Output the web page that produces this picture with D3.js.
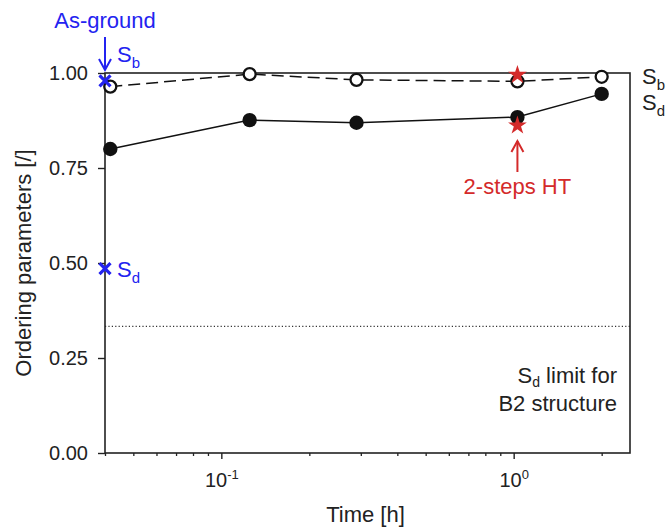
<!DOCTYPE html>
<html><head><meta charset="utf-8">
<script src="https://cdn.jsdelivr.net/npm/d3@7"></script>
<style>html,body{margin:0;padding:0;background:#fff;} svg{display:block;font-family:"Liberation Sans",Arial,sans-serif;}</style>
</head><body><svg id="c" width="667" height="527"></svg>
<script>
// Data
const times = [0.0417, 0.125, 0.29, 1.03, 2.0];
const Sb = [0.964, 0.997, 0.982, 0.978, 0.990];
const Sd = [0.800, 0.876, 0.869, 0.884, 0.945];
const asGroundTime = [0.04];
const asGroundSb = [0.979];
const asGroundSd = [0.485];
const twoStepTime = [1.03];
const twoStepSb = [0.995];
const twoStepSd = [0.862];
const sdLimit = [1/3];
const yTicks = [0, 0.25, 0.5, 0.75, 1.0];
const xMajorTicks = [0.1, 1];
const xMinorTicks = [0.04,0.05,0.06,0.07,0.08,0.09,0.2,0.3,0.4,0.5,0.6,0.7,0.8,0.9,2];

const W = 667, H = 527;
const m = {l:105, r:37, t:73, b:74};
const svg = d3.select("#c");
const x = d3.scaleLog().domain([0.04, 2.5]).range([m.l, W - m.r]);
const y = d3.scaleLinear().domain([0, 1]).range([H - m.b, m.t]);
const FONT = "Liberation Sans, Arial, sans-serif";
const BLUE = "#2323f0", RED = "#d42a2a";

// Dotted limit line
svg.append("line").attr("x1", x.range()[0]).attr("x2", x.range()[1])
  .attr("y1", y(sdLimit[0])).attr("y2", y(sdLimit[0]))
  .attr("stroke", "#333").attr("stroke-width", 1.2).attr("stroke-dasharray", "1.2,2.2");

// Frame
svg.append("rect").attr("x", m.l).attr("y", m.t).attr("width", W-m.l-m.r).attr("height", H-m.t-m.b)
  .attr("fill", "none").attr("stroke", "#222").attr("stroke-width", 1.6);

// Y axis
const yAx = svg.append("g").attr("transform", `translate(${m.l},0)`)
  .call(d3.axisLeft(y).tickValues(yTicks).tickFormat(d3.format(".2f")).tickSize(7).tickPadding(10));
yAx.select(".domain").remove();
yAx.selectAll("line").attr("stroke", "#222").attr("stroke-width", 1.4);
yAx.selectAll("text").attr("font-size", 20).attr("font-family", FONT).attr("fill", "#222");

// X axis minor ticks
const xMin = svg.append("g").attr("transform", `translate(0,${H-m.b})`)
  .call(d3.axisBottom(x).tickValues(xMinorTicks).tickSize(3).tickFormat(""));
xMin.select(".domain").remove();
xMin.selectAll("line").attr("stroke", "#222").attr("stroke-width", 1.3);
// X axis major ticks
const xMaj = svg.append("g").attr("transform", `translate(0,${H-m.b})`)
  .call(d3.axisBottom(x).tickValues(xMajorTicks).tickSize(6).tickFormat(""));
xMaj.select(".domain").remove();
xMaj.selectAll("line").attr("stroke", "#222").attr("stroke-width", 1.4);
xMaj.selectAll(".tick").each(function(d){
  const t = d3.select(this).append("text").attr("y", 34).attr("text-anchor", "middle")
    .attr("font-size", 20).attr("font-family", FONT).attr("fill", "#222");
  t.append("tspan").text("10");
  t.append("tspan").attr("dy", -8).attr("font-size", 13).text(Math.round(Math.log10(d)));
});

// Axis titles
svg.append("text").attr("x", (m.l + W - m.r)/2 - 2).attr("y", 522).attr("text-anchor", "middle")
  .attr("font-size", 22).attr("font-family", FONT).attr("fill", "#222").text("Time [h]");
svg.append("text").attr("transform", `translate(31,${(m.t + H - m.b)/2}) rotate(-90)`)
  .attr("text-anchor", "middle").attr("font-size", 22).attr("font-family", FONT).attr("fill", "#222")
  .text("Ordering parameters [/]");

// Lines
const idx = d3.range(times.length);
svg.append("path").datum(idx).attr("fill", "none").attr("stroke", "#111").attr("stroke-width", 1.5)
  .attr("stroke-dasharray", "12,6")
  .attr("d", d3.line().x(i => x(times[i])).y(i => y(Sb[i])));
svg.append("path").datum(idx).attr("fill", "none").attr("stroke", "#111").attr("stroke-width", 1.5)
  .attr("d", d3.line().x(i => x(times[i])).y(i => y(Sd[i])));

// Markers
svg.selectAll(".sb").data(idx).enter().append("circle")
  .attr("cx", i => x(times[i])).attr("cy", i => y(Sb[i])).attr("r", 6)
  .attr("fill", "#fff").attr("stroke", "#111").attr("stroke-width", 2.3);
svg.selectAll(".sd").data(idx).enter().append("circle")
  .attr("cx", i => x(times[i])).attr("cy", i => y(Sd[i])).attr("r", 7.2)
  .attr("fill", "#111");

// Red stars (2-steps HT)
const star = d3.symbol().type(d3.symbolStar).size(110);
[twoStepSb, twoStepSd].forEach(arr => {
  svg.append("path").attr("d", star())
    .attr("transform", `translate(${x(twoStepTime[0])},${y(arr[0])})`).attr("fill", RED);
});

// Blue crosses (as-ground)
[asGroundSb, asGroundSd].forEach(arr => {
  const cx = x(asGroundTime[0]), cy = y(arr[0]), s = 5.5;
  svg.append("path").attr("d", `M${cx-s},${cy-s}L${cx+s},${cy+s}M${cx-s},${cy+s}L${cx+s},${cy-s}`)
    .attr("stroke", BLUE).attr("stroke-width", 3.2);
});

// Arrow helper
function arrow(x0, y0, y1, color){
  const dir = y1 > y0 ? 1 : -1;
  svg.append("line").attr("x1", x0).attr("x2", x0).attr("y1", y0).attr("y2", y1)
    .attr("stroke", color).attr("stroke-width", 2);
  svg.append("path").attr("d", `M${x0-6},${y1-dir*11}L${x0},${y1}L${x0+6},${y1-dir*11}`)
    .attr("fill", "none").attr("stroke", color).attr("stroke-width", 2);
}

// As-ground annotation
const agx = x(asGroundTime[0]);
svg.append("text").attr("x", agx).attr("y", 28).attr("text-anchor", "middle")
  .attr("font-size", 22).attr("font-family", FONT).attr("fill", BLUE).text("As-ground");
arrow(agx, 37, 70, BLUE);
function subLabel(xp, yp, main, sub, color, size){
  const t = svg.append("text").attr("x", xp).attr("y", yp).attr("font-size", size)
    .attr("font-family", FONT).attr("fill", color);
  t.append("tspan").text(main);
  t.append("tspan").attr("dy", 6).attr("font-size", size*0.68).text(sub);
  return t;
}
subLabel(agx + 12, 62, "S", "b", BLUE, 22);
subLabel(agx + 12, y(asGroundSd[0]) + 8, "S", "d", BLUE, 22);

// Right labels
subLabel(x.range()[1] + 12, 84, "S", "b", "#222", 22);
subLabel(x.range()[1] + 12, 110, "S", "d", "#222", 22);

// 2-steps HT annotation
const tsx = x(twoStepTime[0]);
arrow(tsx, 172, 141, RED);
svg.append("text").attr("x", tsx).attr("y", 194).attr("text-anchor", "middle")
  .attr("font-size", 22).attr("font-family", FONT).attr("fill", RED).text("2-steps HT");

// Sd limit text
const lt = svg.append("text").attr("x", 617).attr("y", 383).attr("text-anchor", "end")
  .attr("font-size", 22).attr("font-family", FONT).attr("fill", "#222");
lt.append("tspan").text("S");
lt.append("tspan").attr("dy", 4).attr("font-size", 14).text("d");
lt.append("tspan").attr("dy", -4).text(" limit for");
svg.append("text").attr("x", 617).attr("y", 411).attr("text-anchor", "end")
  .attr("font-size", 22).attr("font-family", FONT).attr("fill", "#222").text("B2 structure");
</script></body></html>
